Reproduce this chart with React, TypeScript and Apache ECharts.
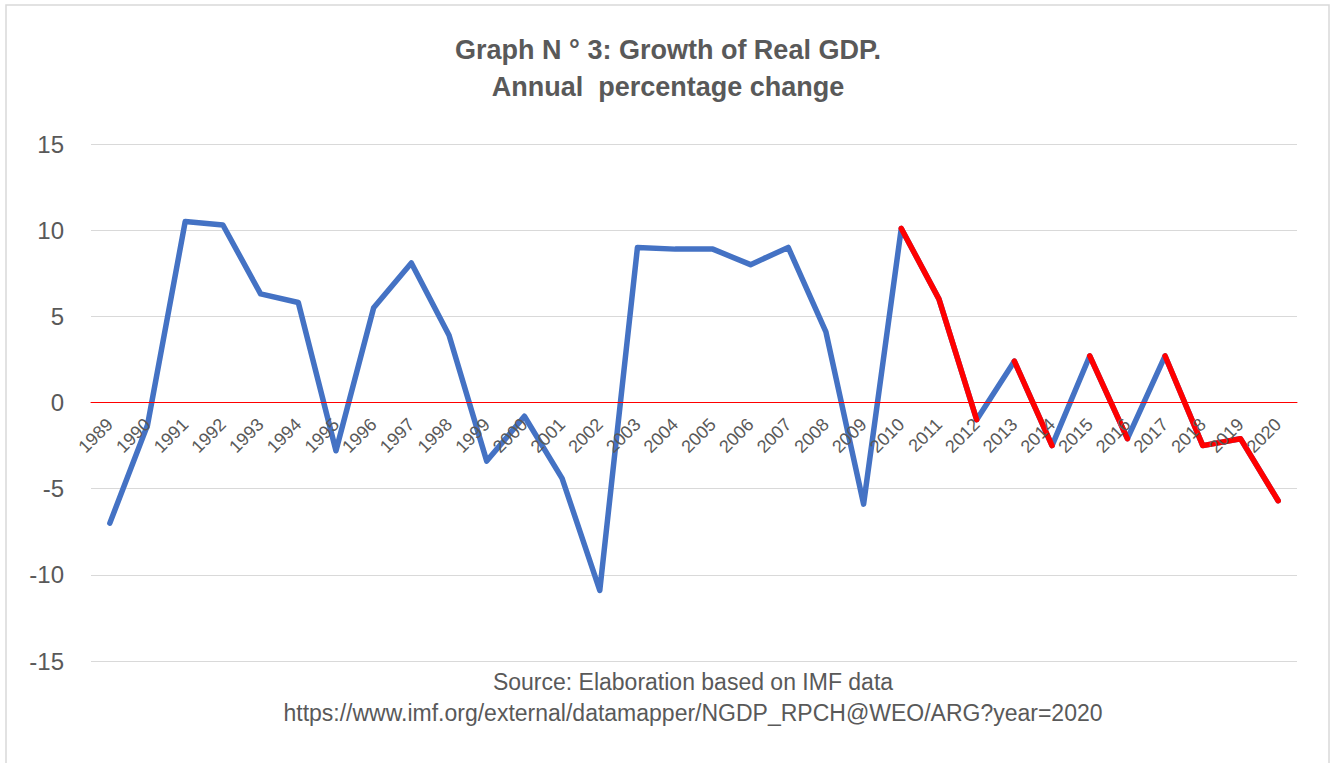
import React, { useEffect, useRef } from "react";
import * as echarts from "echarts";

const years = [
  "1989", "1990", "1991", "1992", "1993", "1994", "1995", "1996", "1997", "1998",
  "1999", "2000", "2001", "2002", "2003", "2004", "2005", "2006", "2007", "2008",
  "2009", "2010", "2011", "2012", "2013", "2014", "2015", "2016", "2017", "2018",
  "2019", "2020",
];

const growth = [
  -7.0, -1.3, 10.5, 10.3, 6.3, 5.8, -2.8, 5.5, 8.1, 3.9,
  -3.4, -0.8, -4.4, -10.9, 9.0, 8.9, 8.9, 8.0, 9.0, 4.1,
  -5.9, 10.1, 6.0, -1.0, 2.4, -2.5, 2.7, -2.1, 2.7, -2.5,
  -2.1, -5.7,
];

// year ranges drawn in red
const redSegments: [string, string][] = [
  ["2010", "2012"],
  ["2013", "2014"],
  ["2015", "2016"],
  ["2017", "2020"],
];

const yTicks = [-15, -10, -5, 0, 5, 10, 15];

const titleLines = ["Graph N ° 3: Growth of Real GDP.", "Annual  percentage change"];
const sourceLines = [
  "Source: Elaboration based on IMF data",
  "https://www.imf.org/external/datamapper/NGDP_RPCH@WEO/ARG?year=2020",
];

const FONT = "'Liberation Sans', Arial, sans-serif";
const GREY = "#595959";

export default function App() {
  const ref = useRef<HTMLDivElement>(null);

  useEffect(() => {
    if (!ref.current) return;
    const chart = echarts.init(ref.current, null, { renderer: "svg" });

    const redSeries = redSegments.map(([a, b], i) => {
      const ia = years.indexOf(a);
      const ib = years.indexOf(b);
      return {
        name: "red" + i,
        type: "line",
        data: growth.map((v, k) => (k >= ia && k <= ib ? v : null)),
        showSymbol: false,
        symbol: "none",
        connectNulls: false,
        lineStyle: { color: "#FF0000", width: 5.5, join: "round", cap: "round" },
        z: 3,
      };
    });

    const gridTop = 144;
    const gridBottom = 102;
    const plotH = 763 - gridTop - gridBottom;
    const ymin = yTicks[0];
    const ymax = yTicks[yTicks.length - 1];
    // distance from bottom of plot to the zero line
    const zeroOffset = (plotH * (0 - ymin)) / (ymax - ymin);

    chart.setOption({
      animation: false,
      backgroundColor: "#ffffff",
      textStyle: { fontFamily: FONT },
      grid: { left: 91, right: 34, top: gridTop, bottom: gridBottom, containLabel: false },
      xAxis: {
        type: "category",
        data: years,
        boundaryGap: true,
        position: "bottom",
        offset: -zeroOffset,
        axisLine: { onZero: false, lineStyle: { color: "#FF0000", width: 1 } },
        axisTick: { show: false },
        axisLabel: {
          rotate: 45,
          color: GREY,
          fontSize: 18,
          fontFamily: FONT,
          margin: 19,
          interval: 0,
        },
        splitLine: { show: false },
        z: 5,
      },
      yAxis: {
        type: "value",
        min: ymin,
        max: ymax,
        interval: 5,
        axisLine: { show: false },
        axisTick: { show: false },
        axisLabel: { color: GREY, fontSize: 24, fontFamily: FONT, margin: 27 },
        splitLine: { lineStyle: { color: "#d9d9d9", width: 1 } },
      },
      graphic: [
        {
          type: "rect",
          shape: { x: 6, y: 5, width: 1323, height: 770 },
          style: { fill: "none", stroke: "#d9d9d9", lineWidth: 1.5 },
          silent: true,
          z: -10,
        },
        ...titleLines.map((t, i) => ({
          type: "text",
          x: 668,
          y: 50 + i * 37,
          style: {
            text: t,
            fill: GREY,
            font: `bold 27px ${FONT}`,
            textAlign: "center",
            textVerticalAlign: "middle",
          },
        })),
        ...sourceLines.map((t, i) => ({
          type: "text",
          x: 693,
          y: 682 + i * 31,
          style: {
            text: t,
            fill: GREY,
            font: `23px ${FONT}`,
            textAlign: "center",
            textVerticalAlign: "middle",
          },
        })),
      ],
      series: [
        {
          name: "growth",
          type: "line",
          data: growth,
          showSymbol: false,
          symbol: "none",
          lineStyle: { color: "#4472C4", width: 5.5, join: "round", cap: "round" },
          z: 2,
        },
        ...redSeries,
      ],
    });

    return () => chart.dispose();
  }, []);

  return (
    <div
      ref={ref}
      style={{ position: "fixed", left: 0, top: 0, width: 1331, height: 763 }}
    />
  );
}
